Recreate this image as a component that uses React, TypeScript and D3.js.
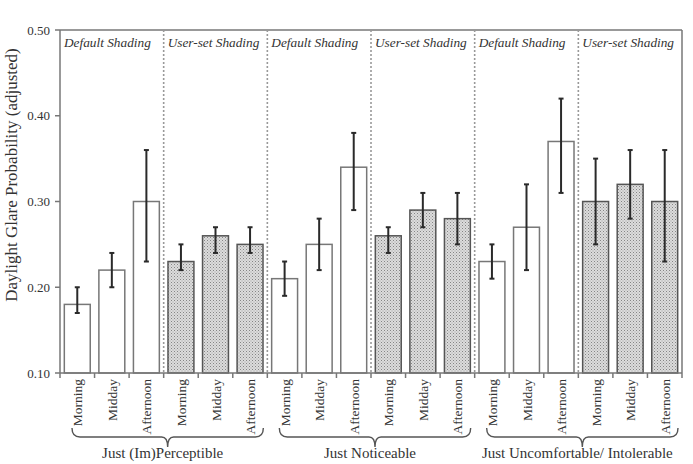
import React from "react";
import * as d3 from "d3";

// glare perception levels, each split into default / user-set shading
const levels = ["Just (Im)Perceptible", "Just Noticeable", "Just Uncomfortable/ Intolerable"];
const shadings = ["Default Shading", "User-set Shading"];
const times = ["Morning", "Midday", "Afternoon"];

// adjusted probability per bar, in level -> shading -> time order
const means = [
  0.18, 0.22, 0.30, 0.23, 0.26, 0.25,
  0.21, 0.25, 0.34, 0.26, 0.29, 0.28,
  0.23, 0.27, 0.37, 0.30, 0.32, 0.30,
];
const lower = [
  0.17, 0.20, 0.23, 0.22, 0.24, 0.24,
  0.19, 0.22, 0.29, 0.24, 0.27, 0.25,
  0.21, 0.22, 0.31, 0.25, 0.28, 0.23,
];
const upper = [
  0.20, 0.24, 0.36, 0.25, 0.27, 0.27,
  0.23, 0.28, 0.38, 0.27, 0.31, 0.31,
  0.25, 0.32, 0.42, 0.35, 0.36, 0.36,
];
const yTicks = [0.1, 0.2, 0.3, 0.4, 0.5];

const W = 693;
const H = 464;
const m = { left: 60, right: 11, top: 30, bottom: 91 };
const serif = "'Liberation Serif', 'DejaVu Serif', serif";

const App = () => {
  const ids = means.map((_, i) => String(i));
  const x = d3
    .scaleBand()
    .domain(ids)
    .range([m.left, W - m.right])
    .paddingInner(0.25)
    .paddingOuter(0.125);
  const y = d3.scaleLinear().domain([0.1, 0.5]).range([H - m.bottom, m.top]);
  const step = x.step();
  const x0 = m.left;
  const yBase = y(0.1);
  const yTop = y(0.5);

  // dotted separators between every block of three bars
  const seps = d3.range(1, 6).map((k) => x0 + k * 3 * step);

  const brace = (a: number, b: number) => {
    const yt = 428;
    const yb = 437;
    const tip = 447;
    const mid = (a + b) / 2;
    return `M${a},${yt} Q${a},${yb} ${a + 8},${yb} L${mid - 6},${yb} Q${mid},${yb} ${mid},${tip} Q${mid},${yb} ${mid + 6},${yb} L${b - 8},${yb} Q${b},${yb} ${b},${yt}`;
  };

  return (
    <svg
      width={W}
      height={H}
      style={{ position: "absolute", left: 0, top: 0, background: "#fff" }}
      fontFamily={serif}
    >
      <defs>
        <pattern id="stipple" width="3" height="3" patternUnits="userSpaceOnUse">
          <rect width="3" height="3" fill="#dcdcdc" />
          <rect x="0" y="0" width="1" height="1" fill="#858585" />
          <rect x="1.5" y="1.5" width="1" height="1" fill="#a0a0a0" />
        </pattern>
      </defs>

      {/* plot frame */}
      <line x1={x0} x2={W - m.right} y1={yTop} y2={yTop} stroke="#777" strokeWidth={1.5} />
      <line x1={W - m.right} x2={W - m.right} y1={yTop} y2={yBase} stroke="#777" strokeWidth={1.5} />

      {seps.map((sx) => (
        <line
          key={sx}
          x1={sx}
          x2={sx}
          y1={yTop}
          y2={yBase}
          stroke="#999"
          strokeWidth={1.6}
          strokeDasharray="2,2"
        />
      ))}

      {/* panel titles */}
      {d3.range(6).map((k) => (
        <text
          key={k}
          x={x0 + k * 3 * step + 4}
          y={47}
          fontSize={13.3}
          fontStyle="italic"
          fill="#333"
        >
          {shadings[k % 2]}
        </text>
      ))}

      {/* bars */}
      {means.map((v, i) => {
        const user = Math.floor(i / 3) % 2 === 1;
        return (
          <rect
            key={i}
            x={x(String(i))}
            y={y(v)}
            width={x.bandwidth()}
            height={yBase - y(v)}
            fill={user ? "url(#stipple)" : "#fff"}
            stroke={user ? "#555" : "#777"}
            strokeWidth={1.5}
          />
        );
      })}

      {/* confidence intervals */}
      {means.map((_, i) => {
        const cx = (x(String(i)) as number) + x.bandwidth() / 2;
        return (
          <g key={i} stroke="#2a2a2a" strokeWidth={2}>
            <line x1={cx} x2={cx} y1={y(upper[i])} y2={y(lower[i])} />
            <line x1={cx - 2.5} x2={cx + 2.5} y1={y(upper[i])} y2={y(upper[i])} />
            <line x1={cx - 2.5} x2={cx + 2.5} y1={y(lower[i])} y2={y(lower[i])} />
          </g>
        );
      })}

      {/* y axis */}
      <line x1={x0} x2={x0} y1={yTop} y2={yBase} stroke="#777" strokeWidth={1.5} />
      {yTicks.map((t) => (
        <g key={t}>
          <line x1={x0 - 5} x2={x0} y1={y(t)} y2={y(t)} stroke="#777" strokeWidth={1.5} />
          <text x={50} y={y(t)} dy="0.35em" textAnchor="end" fontSize={13} fill="#333">
            {d3.format(".2f")(t)}
          </text>
        </g>
      ))}
      <text
        transform={`translate(17,175) rotate(-90)`}
        textAnchor="middle"
        fontSize={17}
        fill="#333"
      >
        Daylight Glare Probability (adjusted)
      </text>

      {/* x axis */}
      <line x1={x0} x2={W - m.right} y1={yBase} y2={yBase} stroke="#777" strokeWidth={1.5} />
      {d3.range(19).map((k) => (
        <line
          key={k}
          x1={x0 + k * step}
          x2={x0 + k * step}
          y1={yBase}
          y2={yBase + 5}
          stroke="#777"
          strokeWidth={1.5}
        />
      ))}
      {means.map((_, i) => {
        const cx = (x(String(i)) as number) + x.bandwidth() / 2;
        return (
          <text
            key={i}
            transform={`translate(${cx + 5},379) rotate(-90)`}
            textAnchor="end"
            fontSize={13.5}
            fill="#333"
          >
            {times[i % 3]}
          </text>
        );
      })}

      {/* level braces */}
      {levels.map((name, g) => {
        const a = x0 + g * 6 * step + 12;
        const b = x0 + (g + 1) * 6 * step - 4;
        return (
          <g key={name}>
            <path d={brace(a, b)} fill="none" stroke="#555" strokeWidth={1.4} />
            <text x={(a + b) / 2 - 5} y={458} textAnchor="middle" fontSize={15} fill="#333">
              {name}
            </text>
          </g>
        );
      })}
    </svg>
  );
};

export default App;
